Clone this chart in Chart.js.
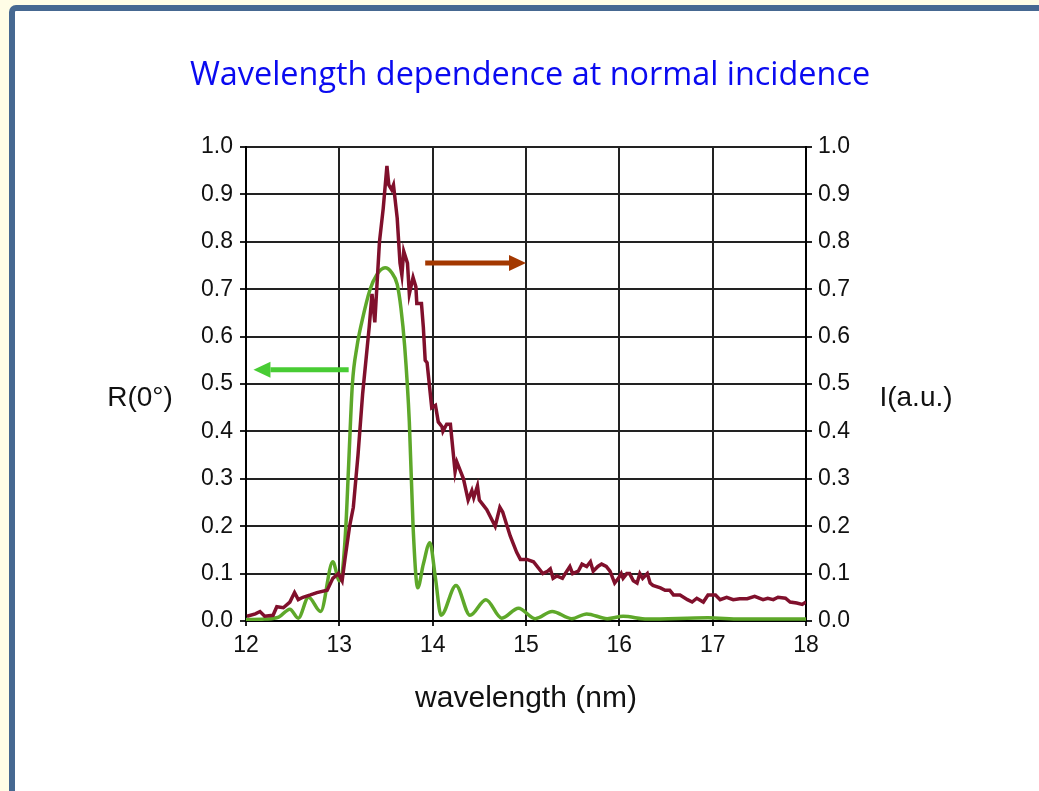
<!DOCTYPE html>
<html><head><meta charset="utf-8">
<script src="https://cdn.jsdelivr.net/npm/chart.js@4"></script>
<style>
html,body{margin:0;padding:0;width:1039px;height:791px;overflow:hidden;background:#fffde6;}
#frame{position:absolute;left:9px;top:5px;width:1100px;height:900px;background:#fff;border-top:6px solid #466891;border-left:6px solid #466891;border-top-left-radius:7px;}
#wrap{position:absolute;left:0;top:0;width:1039px;height:791px;}
</style></head>
<body><div id="frame"></div><div id="wrap"><canvas id="c" width="1039" height="791"></canvas></div>
<script>
const titleText = 'Wavelength dependence at normal incidence';
const xAxisTitle = 'wavelength (nm)';
const leftAxisTitle = 'R(0°)';
const rightAxisTitle = 'I(a.u.)';

// Reflectance R(0°) (green, left axis)
const wavelengthR = [12.00,12.20,12.35,12.47,12.56,12.67,12.80,12.93,13.00,13.03,13.07,13.10,13.14,13.19,13.24,13.33,13.40,13.49,13.56,13.62,13.66,13.70,13.75,13.79,13.84,13.90,13.97,14.03,14.09,14.25,14.40,14.57,14.74,14.92,15.10,15.28,15.49,15.65,15.87,16.04,16.30,16.95,17.30,18.00];
const reflectance = [0.003,0.004,0.008,0.025,0.006,0.05,0.02,0.125,0.085,0.10,0.20,0.33,0.50,0.58,0.63,0.70,0.73,0.745,0.735,0.71,0.66,0.58,0.42,0.20,0.07,0.12,0.165,0.09,0.012,0.075,0.012,0.045,0.006,0.027,0.005,0.02,0.005,0.015,0.005,0.01,0.004,0.007,0.004,0.004];

// Intensity I (maroon, right axis)
const wavelengthI = [12.01,12.10,12.15,12.20,12.29,12.33,12.40,12.47,12.52,12.56,12.61,12.69,12.76,12.87,12.93,12.99,13.03,13.06,13.11,13.15,13.20,13.25,13.30,13.32,13.35,13.38,13.43,13.47,13.51,13.53,13.56,13.58,13.62,13.65,13.67,13.69,13.73,13.75,13.79,13.82,13.83,13.88,13.90,13.92,13.94,13.99,14.03,14.06,14.10,14.11,14.15,14.19,14.24,14.26,14.33,14.38,14.42,14.44,14.48,14.50,14.54,14.58,14.67,14.72,14.75,14.83,14.86,14.90,14.94,15.01,15.08,15.18,15.23,15.26,15.29,15.33,15.39,15.42,15.47,15.50,15.56,15.60,15.65,15.69,15.72,15.77,15.81,15.86,15.90,15.95,15.99,16.02,16.04,16.08,16.11,16.15,16.19,16.22,16.25,16.30,16.33,16.36,16.44,16.49,16.54,16.58,16.65,16.73,16.78,16.83,16.90,16.95,17.03,17.08,17.15,17.22,17.29,17.37,17.45,17.54,17.59,17.65,17.70,17.78,17.83,17.90,17.96,18.00];
const intensity = [0.01,0.015,0.02,0.01,0.012,0.03,0.028,0.04,0.06,0.045,0.05,0.055,0.06,0.065,0.09,0.10,0.085,0.13,0.20,0.24,0.35,0.48,0.58,0.62,0.69,0.63,0.80,0.87,0.96,0.92,0.91,0.92,0.85,0.755,0.73,0.78,0.755,0.69,0.725,0.705,0.67,0.67,0.62,0.55,0.545,0.45,0.455,0.42,0.41,0.40,0.415,0.415,0.315,0.335,0.30,0.255,0.275,0.26,0.285,0.255,0.245,0.235,0.20,0.24,0.23,0.18,0.165,0.145,0.13,0.13,0.125,0.10,0.105,0.11,0.09,0.095,0.09,0.10,0.115,0.10,0.105,0.12,0.115,0.125,0.105,0.115,0.12,0.115,0.105,0.08,0.09,0.10,0.09,0.10,0.10,0.085,0.08,0.10,0.09,0.10,0.08,0.075,0.07,0.065,0.065,0.055,0.055,0.045,0.04,0.048,0.04,0.055,0.055,0.045,0.05,0.045,0.047,0.047,0.052,0.045,0.048,0.045,0.05,0.048,0.04,0.038,0.035,0.04];

const xMin = 12, xMax = 18, xStep = 1;
const yMin = 0, yMax = 1, yStep = 0.1;

// Arrow annotations (data coordinates)
const arrowLeft = {from:[13.10,0.53], to:[12.08,0.53], color:'#48cc34'};
const arrowRight = {from:[13.92,0.755], to:[15.0,0.755], color:'#a33800'};

const FONT = "'Liberation Sans', Arial, sans-serif";
const TXT = '#111111';
const GRID = '#222222';

const extras = {
  id:'extras',
  afterDatasetsDraw(chart){
    const ctx = chart.ctx, xs = chart.scales.x, ys = chart.scales.y;
    function arrow(a){
      const x1 = xs.getPixelForValue(a.from[0]), y1 = ys.getPixelForValue(a.from[1]);
      const x2 = xs.getPixelForValue(a.to[0]), y2 = ys.getPixelForValue(a.to[1]);
      const dir = Math.sign(x2-x1), head = 17, hw = 8;
      ctx.save();
      ctx.fillStyle = a.color; ctx.strokeStyle = a.color;
      ctx.lineWidth = 5;
      ctx.beginPath(); ctx.moveTo(x1,y1); ctx.lineTo(x2-dir*head,y2); ctx.stroke();
      ctx.beginPath(); ctx.moveTo(x2,y2); ctx.lineTo(x2-dir*head,y2-hw); ctx.lineTo(x2-dir*head,y2+hw); ctx.closePath(); ctx.fill();
      ctx.restore();
    }
    arrow(arrowLeft); arrow(arrowRight);
  },
  afterDraw(chart){
    const ctx = chart.ctx, ca = chart.chartArea;
    ctx.save();
    ctx.font = '28px ' + FONT; ctx.fillStyle = TXT;
    ctx.textAlign = 'center'; ctx.textBaseline = 'middle';
    ctx.fillText(leftAxisTitle, ca.left - 106, ca.top + 251);
    ctx.fillText(rightAxisTitle, ca.right + 110, ca.top + 251);
    ctx.restore();
  }
};

const tickFont = {family:FONT, size:23};
new Chart(document.getElementById('c'), {
  type:'line',
  data:{datasets:[
    {label:'I', data:wavelengthI.map((x,i)=>({x, y:intensity[i]})), yAxisID:'y2', borderColor:'#80102c', borderWidth:3.5, pointRadius:0, tension:0, order:0},
    {label:'R', data:wavelengthR.map((x,i)=>({x, y:reflectance[i]})), yAxisID:'y', borderColor:'#5ea82a', borderWidth:3.5, pointRadius:0, cubicInterpolationMode:'monotone', order:1}
  ]},
  options:{
    responsive:false, animation:false, devicePixelRatio:1,
    layout:{padding:{top:56,left:110,right:89,bottom:70}},
    plugins:{
      legend:{display:false}, tooltip:{enabled:false},
      title:{display:true, text:titleText, color:'#0a0af0', font:{family:"'Open Sans', sans-serif", size:32.4, weight:'normal', lineHeight:1.2}, padding:{top:0,bottom:52.1}}
    },
    scales:{
      x:{type:'linear', position:'bottom', min:xMin, max:xMax,
        ticks:{stepSize:xStep, color:TXT, font:tickFont, padding:6},
        grid:{color:GRID, lineWidth:2, tickLength:5},
        border:{color:'#000', width:2},
        title:{display:true, text:xAxisTitle, color:TXT, font:{family:FONT,size:30}, padding:{top:0,bottom:4}},
        afterFit(s){ s.height = 100; }
      },
      y:{type:'linear', position:'left', min:yMin, max:yMax,
        ticks:{stepSize:yStep, color:TXT, font:tickFont, padding:7, callback:v=>v.toFixed(1)},
        grid:{color:GRID, lineWidth:2, tickLength:6},
        border:{color:'#000', width:2},
        afterFit(s){ s.width = 136; }
      },
      y2:{type:'linear', position:'right', min:yMin, max:yMax,
        ticks:{stepSize:yStep, color:TXT, font:tickFont, padding:6, callback:v=>v.toFixed(1)},
        grid:{drawOnChartArea:false, color:GRID, lineWidth:2, tickLength:6},
        border:{color:'#000', width:2},
        afterFit(s){ s.width = 144; }
      }
    }
  },
  plugins:[extras]
});
</script></body></html>
